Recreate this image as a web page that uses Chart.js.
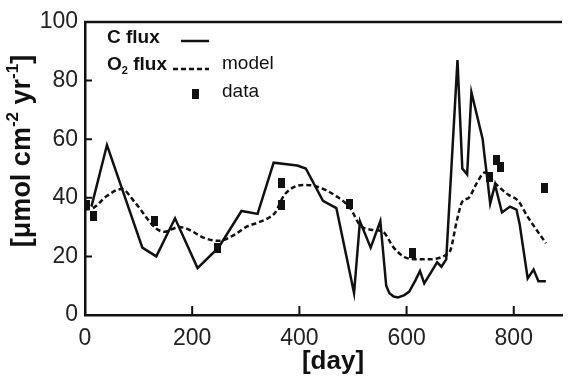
<!DOCTYPE html>
<html>
<head>
<meta charset="utf-8">
<script src="https://cdn.jsdelivr.net/npm/chart.js@4/dist/chart.umd.min.js"></script>
<style>
  html, body { margin: 0; padding: 0; background: #fff; }
  canvas { display: block; }
</style>
</head>
<body>
<canvas id="chart" width="568" height="382"></canvas>
<script>
//########################## data
// C flux (solid line)
const cDays = [12, 41, 107, 133, 168, 210, 249, 292, 322, 352, 396, 412, 444, 469, 502, 513, 533, 551, 562, 568, 576, 584, 596, 605, 617, 625, 633, 657, 665, 674, 695, 704, 713, 721, 742, 745, 751, 756, 765, 778, 793, 805, 811, 826, 837, 846, 860]
const cFlux = [37, 58, 23, 20, 33, 16, 23, 35.5, 34.5, 52, 51, 50, 39, 36.5, 7.5, 32, 23, 32, 10, 7.4, 6.3, 6, 6.8, 8, 12, 15, 10.8, 18, 16.5, 19, 87, 50, 48, 76, 60, 55, 46, 38, 44.5, 35, 37, 36, 31, 12.5, 15.5, 11.5, 11.5]

// O2 flux model (dashed line)
const mDays = [0, 15, 40, 68, 95, 132, 148, 175, 188, 224, 249, 280, 300, 322, 341, 355, 372, 409, 433, 470, 495, 513, 538, 556, 576, 596, 620, 642, 673, 682, 694, 704, 716, 731, 746, 765, 790, 808, 826, 860]
const mFlux = [36, 36.5, 40.5, 43, 38, 29.6, 28.4, 30, 29.6, 26.2, 25.3, 27.5, 30, 31.5, 33, 35, 41, 44.4, 43.8, 40.4, 36.4, 30.7, 29, 28.4, 23, 19.8, 19, 19, 20.5, 22.2, 32.4, 38.7, 40, 45, 48.6, 45, 41, 39, 33.5, 24.5]

// O2 flux data (squares)
const dDays = [2, 15, 129, 248, 366, 367, 493, 611, 754, 768, 776, 857]
const dFlux = [37.5, 33.8, 32, 23, 45, 37.5, 38, 21.3, 47, 53, 50.6, 43.2]

const xTicks = [0, 200, 400, 600, 800]
const yTicks = [0, 20, 40, 60, 80, 100]

const ink = '#111'
const fam = '"Liberation Sans", Arial, sans-serif'

function toXY(xs, ys) {
  return xs.map((x, i) => ({ x: x, y: ys[i] }))
}

// little black rectangle used as marker
const marker = document.createElement('canvas')
marker.width = 7
marker.height = 10
let mctx = marker.getContext('2d')
mctx.fillStyle = ink
mctx.fillRect(0, 0, 7, 10)

//########################## extras: frame, inner ticks, titles, legend
const extras = {
  id: 'extras',
  afterDraw(chart) {
    const ctx = chart.ctx
    const area = chart.chartArea
    const xs = chart.scales.x
    const ys = chart.scales.y
    ctx.save()
    ctx.strokeStyle = ink
    ctx.lineWidth = 2.5
    // top frame
    ctx.beginPath()
    ctx.moveTo(area.left - 1, area.top)
    ctx.lineTo(area.right, area.top)
    ctx.stroke()
    // inward tick marks
    ctx.lineWidth = 2
    ctx.beginPath()
    yTicks.slice(1, -1).forEach(v => {
      let py = ys.getPixelForValue(v)
      ctx.moveTo(area.left, py)
      ctx.lineTo(area.left + 7, py)
    })
    xTicks.slice(1).forEach(v => {
      let px = xs.getPixelForValue(v)
      ctx.moveTo(px, area.bottom)
      ctx.lineTo(px, area.bottom - 9)
    })
    ctx.stroke()

    // x title
    ctx.fillStyle = ink
    ctx.textAlign = 'center'
    ctx.textBaseline = 'middle'
    ctx.font = 'bold 26px ' + fam
    ctx.fillText('[day]', 333, 362)
    ctx.textAlign = 'left'

    // y title with superscripts
    const big = 'bold 27px ' + fam
    const small = 'bold 17px ' + fam
    const parts = [
      ['[\u03bcmol cm', big, 0],
      ['-2', small, -10],
      [' yr', big, 0],
      ['-1', small, -10],
      [']', big, 0]
    ]
    let total = 0
    parts.forEach(p => { ctx.font = p[1]; total += ctx.measureText(p[0]).width })
    ctx.translate(23, 151)
    ctx.rotate(-Math.PI / 2)
    let cx = -total / 2
    parts.forEach(p => {
      ctx.font = p[1]
      ctx.fillText(p[0], cx, p[2])
      cx += ctx.measureText(p[0]).width
    })
    ctx.restore()

    // legend
    ctx.save()
    ctx.fillStyle = ink
    ctx.strokeStyle = ink
    ctx.textBaseline = 'middle'
    const lb = 'bold 19px ' + fam
    const lr = '19px ' + fam
    ctx.font = lb
    ctx.fillText('C flux', 107, 38)
    ctx.lineWidth = 2.5
    ctx.beginPath()
    ctx.moveTo(181, 41)
    ctx.lineTo(209, 41)
    ctx.stroke()

    ctx.fillText('O', 107, 65)
    let ow = ctx.measureText('O').width
    ctx.font = 'bold 11px ' + fam
    ctx.fillText('2', 107 + ow, 71)
    let tw = ctx.measureText('2').width
    ctx.font = lb
    ctx.fillText(' flux', 107 + ow + tw, 65)
    ctx.setLineDash([5, 3])
    ctx.beginPath()
    ctx.moveTo(173, 69)
    ctx.lineTo(209, 69)
    ctx.stroke()
    ctx.setLineDash([])
    ctx.font = lr
    ctx.fillText('model', 222, 64)

    ctx.drawImage(marker, 192, 89)
    ctx.fillText('data', 222, 92)
    ctx.restore()
  }
}

//########################## chart
new Chart(document.getElementById('chart'), {
  type: 'line',
  data: {
    datasets: [
      {
        label: 'C flux',
        data: toXY(cDays, cFlux),
        borderColor: ink,
        borderWidth: 2.5,
        pointRadius: 0,
        tension: 0,
        fill: false
      },
      {
        label: 'model',
        data: toXY(mDays, mFlux),
        borderColor: ink,
        borderWidth: 2.5,
        borderDash: [5, 3],
        pointRadius: 0,
        tension: 0.4,
        cubicInterpolationMode: 'monotone',
        fill: false
      },
      {
        label: 'data',
        data: toXY(dDays, dFlux),
        showLine: false,
        pointStyle: marker,
        pointRadius: 5,
        borderColor: ink,
        backgroundColor: ink
      }
    ]
  },
  options: {
    responsive: false,
    animation: false,
    devicePixelRatio: 1,
    layout: { padding: { top: 22, right: 0, left: 0, bottom: 0 } },
    plugins: {
      legend: { display: false },
      tooltip: { enabled: false }
    },
    scales: {
      x: {
        type: 'linear',
        min: 0,
        max: 890,
        afterBuildTicks: s => { s.ticks = xTicks.map(v => ({ value: v })) },
        afterFit: s => { s.height = 67 },
        grid: { display: false, drawTicks: false },
        border: { display: true, color: ink, width: 2.5 },
        ticks: {
          color: '#222',
          padding: 10,
          maxRotation: 0,
          font: { family: fam, size: 23 }
        }
      },
      y: {
        min: 0,
        max: 100,
        afterBuildTicks: s => { s.ticks = yTicks.map(v => ({ value: v })) },
        afterFit: s => { s.width = 85 },
        grid: { display: false, drawTicks: false },
        border: { display: true, color: ink, width: 2.5 },
        ticks: {
          color: '#222',
          padding: 7,
          font: { family: fam, size: 23 }
        }
      }
    }
  },
  plugins: [extras]
})
</script>
</body>
</html>
